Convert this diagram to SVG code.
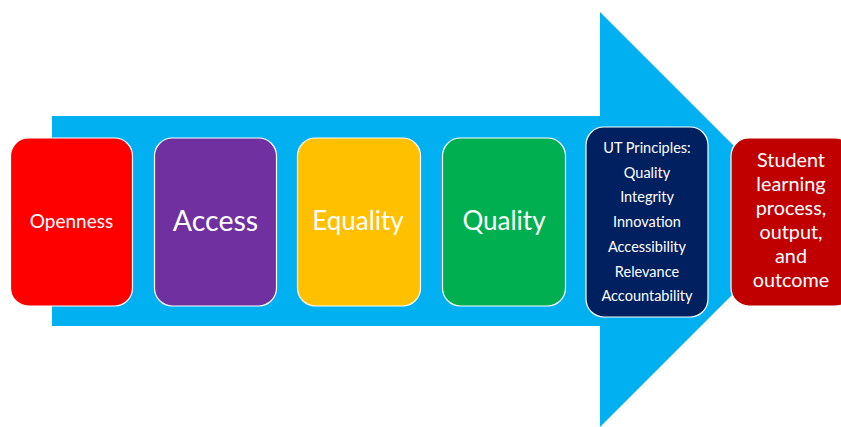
<svg xmlns="http://www.w3.org/2000/svg" width="841" height="427" viewBox="0 0 841 427">
<style>
.box{stroke:#ffffff;stroke-width:1.2}
.t{font-family:Lato,"Open Sans","Liberation Sans",sans-serif;fill:#ffffff;text-anchor:middle}
</style>
<rect width="841" height="427" fill="#ffffff"/>
<g id="arrow">
<polygon points="52,116 600,116 600,12 807.5,219.5 600,427 600,326 52,326" fill="#00B0F0"/>
</g>
<g id="connectors"></g>
<g id="openness">
<rect class="box" x="10.5" y="138" width="122" height="168" rx="18" fill="#FF0000"/>
<text class="t" x="71.5" y="227.5" font-size="19">Openness</text>
</g>
<g id="access">
<rect class="box" x="154.5" y="138" width="122" height="168" rx="18" fill="#7030A0"/>
<text class="t" x="215.5" y="230.5" font-size="28.5">Access</text>
</g>
<g id="equality">
<rect class="box" x="297.5" y="138" width="123" height="168" rx="18" fill="#FFC000"/>
<text class="t" x="358" y="229.5" font-size="26">Equality</text>
</g>
<g id="quality">
<rect class="box" x="442.5" y="138" width="123" height="168" rx="18" fill="#00B050"/>
<text class="t" x="504" y="229.5" font-size="26">Quality</text>
</g>
<g id="ut-principles">
<rect class="box" x="586" y="127" width="122" height="190" rx="18" fill="#002060"/>
<g class="t" font-size="14.5">
<text x="647" y="152.7">UT Principles:</text>
<text x="647" y="177.5">Quality</text>
<text x="647" y="202.3">Integrity</text>
<text x="647" y="227">Innovation</text>
<text x="647" y="251.8">Accessibility</text>
<text x="647" y="276.6">Relevance</text>
<text x="647" y="301.4">Accountability</text>
</g>
</g>
<g id="student-outcome">
<rect class="box" x="731" y="138" width="122" height="168" rx="18" fill="#C00000"/>
<g class="t" font-size="19.8">
<text x="791" y="167.3">Student</text>
<text x="791" y="191.2">learning</text>
<text x="791" y="215.1">process,</text>
<text x="791" y="239">output,</text>
<text x="791" y="262.9">and</text>
<text x="791" y="286.7">outcome</text>
</g>
</g>
</svg>
